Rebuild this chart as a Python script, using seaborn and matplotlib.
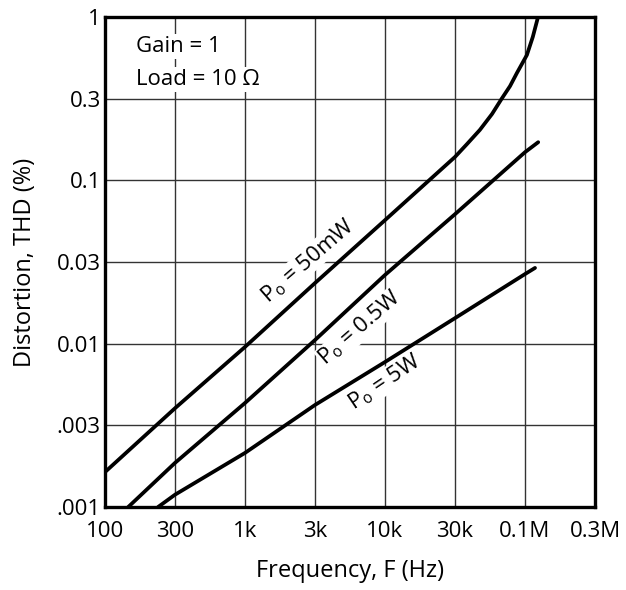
import numpy as np
import pandas as pd
import matplotlib
matplotlib.use("Agg")
import matplotlib.pyplot as plt
import seaborn as sns

# ---- data ----
X_TICKS = [100, 300, 1e3, 3e3, 1e4, 3e4, 1e5, 3e5]
X_LABELS = ["100", "300", "1k", "3k", "10k", "30k", "0.1M", "0.3M"]
Y_TICKS = [0.001, 0.003, 0.01, 0.03, 0.1, 0.3, 1]
Y_LABELS = [".001", ".003", "0.01", "0.03", "0.1", "0.3", "1"]

f_50mw = [100, 300, 1e3, 3e3, 1e4, 3e4, 36.9e3, 46e3, 56.7e3, 67e3, 77.3e3,
          87e3, 103e3, 113e3, 122.7e3]
thd_50mw = [0.0016, 0.00386, 0.00953, 0.0226, 0.0556, 0.137, 0.163, 0.197,
            0.244, 0.30, 0.361, 0.438, 0.571, 0.745, 1.0]

f_05w = [144, 300, 1e3, 3e3, 1e4, 3e4, 1e5, 123e3]
thd_05w = [0.001, 0.00181, 0.00417, 0.0105, 0.0252, 0.0607, 0.146, 0.167]

f_5w = [230, 300, 1e3, 3e3, 1e4, 3e4, 1e5, 117e3]
thd_5w = [0.001, 0.00118, 0.00207, 0.00405, 0.00763, 0.0141, 0.0255, 0.0277]

SERIES = ["Po = 50mW", "Po = 0.5W", "Po = 5W"]


def make_scale(vals):
    L = np.log10(np.asarray(vals, float))
    I = np.arange(len(vals), dtype=float)

    def fwd(v):
        lv = np.log10(np.clip(np.asarray(v, float), 1e-300, None))
        out = np.interp(lv, L, I)
        out = np.where(lv < L[0], (lv - L[0]) / (L[1] - L[0]), out)
        out = np.where(lv > L[-1], I[-1] + (lv - L[-1]) / (L[-1] - L[-2]), out)
        return out

    def inv(g):
        g = np.asarray(g, float)
        lv = np.interp(g, I, L)
        lv = np.where(g < 0, L[0] + g * (L[1] - L[0]), lv)
        lv = np.where(g > I[-1], L[-1] + (g - I[-1]) * (L[-1] - L[-2]), lv)
        return 10 ** lv

    return fwd, inv


sns.set_style("white")
FONT = ["Open Sans", "DejaVu Sans"]
plt.rcParams["font.family"] = FONT
plt.rcParams["mathtext.fontset"] = "custom"
plt.rcParams["mathtext.rm"] = "Open Sans"
plt.rcParams["mathtext.it"] = "Open Sans"
for k in ["text.color", "axes.labelcolor", "xtick.color", "ytick.color"]:
    plt.rcParams[k] = "black"

fig = plt.figure(figsize=(6.26, 5.90), dpi=100)
ax = fig.add_axes([105 / 626, 1 - 507 / 590, 490 / 626, 490 / 590])

df = pd.concat([
    pd.DataFrame({"f": f_50mw, "thd": thd_50mw, "s": SERIES[0]}),
    pd.DataFrame({"f": f_05w, "thd": thd_05w, "s": SERIES[1]}),
    pd.DataFrame({"f": f_5w, "thd": thd_5w, "s": SERIES[2]}),
])

sns.lineplot(data=df, x="f", y="thd", units="s", estimator=None, sort=False,
             color="black", lw=2.7, ax=ax, legend=False, zorder=4)

ax.set_xscale("function", functions=make_scale(X_TICKS))
ax.set_yscale("function", functions=make_scale(Y_TICKS))
ax.set_xlim(X_TICKS[0], X_TICKS[-1])
ax.set_ylim(Y_TICKS[0], Y_TICKS[-1])
ax.set_xticks(X_TICKS)
ax.set_xticklabels(X_LABELS)
ax.set_yticks(Y_TICKS)
ax.set_yticklabels(Y_LABELS)
ax.minorticks_off()
ax.tick_params(length=0, labelsize=16, colors="black")
ax.tick_params(axis="x", pad=10)
ax.tick_params(axis="y", pad=3)

ax.grid(True, color="#333333", lw=1.0, zorder=0)
ax.set_axisbelow(True)
for sp in ax.spines.values():
    sp.set_color("black")
    sp.set_linewidth(2.4)

ax.set_xlabel("Frequency, F (Hz)", fontsize=17, labelpad=12)
ax.set_ylabel("Distortion, THD (%)", fontsize=17, labelpad=14)

box = dict(facecolor="white", edgecolor="none", pad=1.5)
ax.text(0.064, 0.94, "Gain = 1", transform=ax.transAxes, fontsize=16,
        va="center", ha="left", bbox=box, zorder=3)
ax.text(0.064, 0.872, "Load = 10 Ω", transform=ax.transAxes, fontsize=16,
        va="center", ha="left", bbox=box, zorder=3)

lbl = dict(fontsize=16, ha="center", va="center", rotation_mode="anchor",
           bbox=dict(facecolor="white", edgecolor="none", pad=0.5), zorder=3)
ax.text(2.69e3, 0.0305, r"P$_\mathregular{o}$ = 50mW", rotation=41, **lbl)
ax.text(6.5e3, 0.0123, r"P$_\mathregular{o}$ = 0.5W", rotation=41, **lbl)
ax.text(1.0e4, 0.0057, r"P$_\mathregular{o}$ = 5W", rotation=34, **lbl)

fig.savefig("out.png", dpi=100)
